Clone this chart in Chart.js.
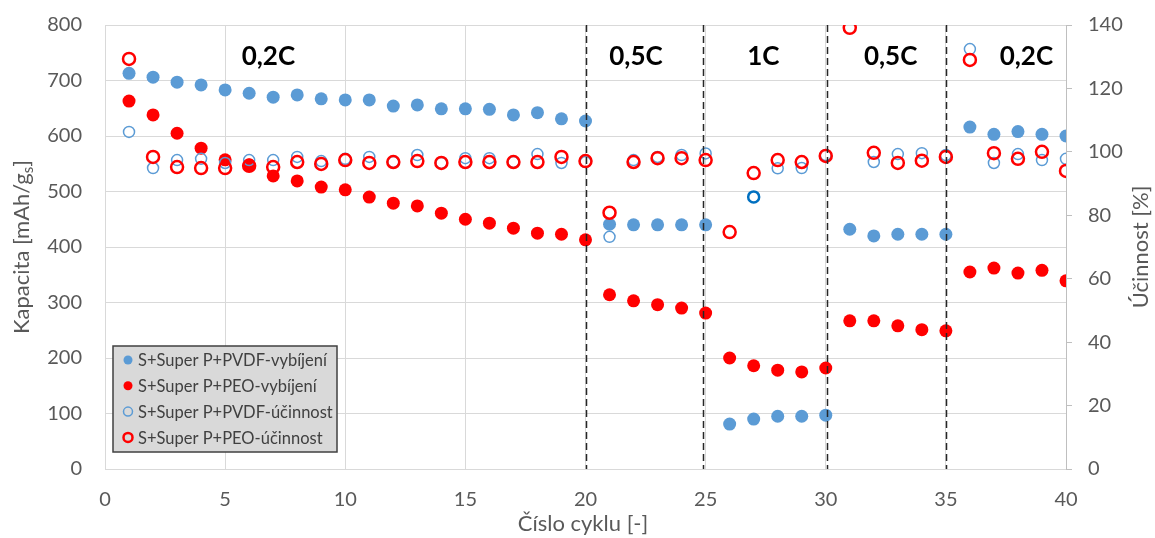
<!DOCTYPE html>
<html>
<head>
<meta charset="utf-8">
<script src="https://cdn.jsdelivr.net/npm/chart.js@4.4.0/dist/chart.umd.min.js"></script>
<style>
  html, body { margin: 0; padding: 0; background: #ffffff; }
  #wrap { width: 1155px; height: 538px; position: relative; }
</style>
</head>
<body>
<div id="wrap"><canvas id="c"></canvas></div>
<script>
// ---- data ----
const cycles = [1,2,3,4,5,6,7,8,9,10,11,12,13,14,15,16,17,18,19,20,21,22,23,24,25,26,27,28,29,30,31,32,33,34,35,36,37,38,39,40];
const pvdfDischarge = [713,706,697,692,683,677,670,674,667,665,665,654,656,649,649,648,638,642,631,627,441,440,440,440,440,81,90,95,95,97,432,420,423,423,423,616,603,608,603,600];
const peoDischarge = [663,638,605,578,557,548,528,519,508,503,490,479,474,461,450,443,434,425,423,413,314,303,296,290,281,200,186,178,175,182,267,267,258,251,249,355,362,353,358,339];
const pvdfEfficiency = [106.3,94.9,97.4,97.8,96.5,97.4,97.4,98.4,97.1,97.8,98.4,96.8,99.0,96.5,98.0,98.0,96.8,99.3,96.5,96.8,73.2,97.4,98.4,99.0,99.5,null,85.8,94.8,94.9,99.0,null,96.8,99.3,99.6,99.0,132.4,96.5,99.3,97.4,97.8];
const peoEfficiency = [129.3,98.4,95.2,94.9,94.9,95.6,95.2,96.8,96.2,97.4,96.5,96.8,97.1,96.5,96.8,96.8,96.8,96.8,98.4,97.1,80.8,96.8,98.0,98.0,97.4,74.7,93.3,97.4,96.8,98.7,139.1,99.7,96.5,97.2,98.4,129.0,99.6,97.8,100.0,94.0];
const seriesLabels = ['S+Super P+PVDF-vybíjení','S+Super P+PEO-vybíjení','S+Super P+PVDF-účinnost','S+Super P+PEO-účinnost'];
const capacityTicks = [0,100,200,300,400,500,600,700,800];
const efficiencyTicks = [0,20,40,60,80,100,120,140];
const cycleTicks = [0,5,10,15,20,25,30,35,40];
const rateLabels = ['0,2C','0,5C','1C','0,5C','0,2C'];
const rateLabelCycle = [6.8,22.1,27.4,32.7,38.35];
const rateBoundaries = [20,24.9,30.05,35];
const axisTitles = { left: 'Kapacita [mAh/g', leftSub: 's', right: 'Účinnost [%]', bottom: 'Číslo cyklu [-]' };

// ---- styling ----
const FONT = 'Lato, "Open Sans", "Liberation Sans", sans-serif';
const GREY = '#595959';
const GRID = '#d9d9d9';
const BLUE = '#5b9bd5';
const RED = '#ff0000';

const toPts = (vals) => cycles.map((c, i) => ({ x: c, y: vals[i] }));

const legendStyles = [
  { fill: BLUE }, { fill: RED }, { stroke: BLUE, w: 1.5 }, { stroke: RED, w: 2.5 }
];

const overlay = {
  id: 'overlay',
  afterDatasetsDraw(chart) {
    const { ctx, chartArea: a, scales } = chart;
    const xs = scales.x;
    ctx.save();
    // dashed rate boundaries
    ctx.strokeStyle = '#262626';
    ctx.lineWidth = 1.5;
    ctx.setLineDash([7, 4]);
    rateBoundaries.forEach(v => {
      const px = Math.round(xs.getPixelForValue(v)) + 0.5;
      ctx.beginPath(); ctx.moveTo(px, a.top); ctx.lineTo(px, a.bottom); ctx.stroke();
    });
    ctx.setLineDash([]);
    // rate labels
    ctx.fillStyle = '#000000';
    ctx.font = 'bold 26px ' + FONT;
    ctx.textAlign = 'center'; ctx.textBaseline = 'middle';
    rateLabels.forEach((t, i) => ctx.fillText(t, xs.getPixelForValue(rateLabelCycle[i]), 57));
    // legend box
    const lx = 113, ly = 346, lw = 224, lh = 106;
    ctx.fillStyle = '#d9d9d9';
    ctx.fillRect(lx, ly, lw, lh);
    ctx.strokeStyle = '#404040'; ctx.lineWidth = 1.5;
    ctx.strokeRect(lx, ly, lw, lh);
    ctx.font = '16.5px ' + FONT;
    ctx.textAlign = 'left'; ctx.textBaseline = 'middle';
    chart.data.datasets.forEach((ds, i) => {
      const y = ly + 14 + i * 25.8;
      const st = legendStyles[i];
      ctx.beginPath();
      ctx.arc(lx + 15, y, 4.5, 0, Math.PI * 2);
      if (st.fill) { ctx.fillStyle = st.fill; ctx.fill(); }
      else { ctx.strokeStyle = st.stroke; ctx.lineWidth = st.w; ctx.stroke(); }
      ctx.fillStyle = '#404040';
      ctx.fillText(ds.label, lx + 25, y + 1);
    });
    // axis titles
    ctx.fillStyle = GREY;
    const TF = 22, SF = 15;
    ctx.font = TF + 'px ' + FONT;
    // left, with subscript
    ctx.save();
    ctx.translate(22, (a.top + a.bottom) / 2);
    ctx.rotate(-Math.PI / 2);
    const mainW = ctx.measureText(axisTitles.left).width;
    ctx.font = SF + 'px ' + FONT;
    const subW = ctx.measureText(axisTitles.leftSub).width;
    ctx.font = TF + 'px ' + FONT;
    const closeW = ctx.measureText(']').width;
    const total = mainW + subW + closeW;
    let sx = -total / 2;
    ctx.textAlign = 'left'; ctx.textBaseline = 'middle';
    ctx.fillText(axisTitles.left, sx, 0); sx += mainW;
    ctx.font = SF + 'px ' + FONT; ctx.fillText(axisTitles.leftSub, sx, 6); sx += subW;
    ctx.font = TF + 'px ' + FONT; ctx.fillText(']', sx, 0);
    ctx.restore();
    // right
    ctx.save();
    ctx.translate(1141, (a.top + a.bottom) / 2);
    ctx.rotate(-Math.PI / 2);
    ctx.textAlign = 'center'; ctx.textBaseline = 'middle';
    ctx.fillText(axisTitles.right, 0, 0);
    ctx.restore();
    // bottom
    ctx.textAlign = 'center'; ctx.textBaseline = 'middle';
    ctx.fillText(axisTitles.bottom, 583, 524);
    ctx.restore();
  }
};

const fitY = (w) => (s) => { s.width = w; s.paddingTop = 0; s.paddingBottom = 0; };

new Chart(document.getElementById('c'), {
  type: 'scatter',
  data: {
    datasets: [
      { label: seriesLabels[0], data: toPts(pvdfDischarge), yAxisID: 'y', order: 3,
        pointRadius: 6.5, pointHoverRadius: 6.5, pointBackgroundColor: BLUE, pointBorderColor: BLUE, pointBorderWidth: 0 },
      { label: seriesLabels[1], data: toPts(peoDischarge), yAxisID: 'y', order: 2,
        pointRadius: 6.5, pointHoverRadius: 6.5, pointBackgroundColor: RED, pointBorderColor: RED, pointBorderWidth: 0 },
      { label: seriesLabels[2], data: toPts(pvdfEfficiency), yAxisID: 'y2', order: 1,
        pointRadius: 5.5, pointHoverRadius: 5.5, pointBackgroundColor: 'rgba(0,0,0,0)',
        pointBorderColor: (c) => c.dataIndex === 26 ? '#0070c0' : BLUE,
        pointBorderWidth: (c) => c.dataIndex === 26 ? 2.5 : 1.5 },
      { label: seriesLabels[3], data: toPts(peoEfficiency), yAxisID: 'y2', order: 0,
        pointRadius: 6, pointHoverRadius: 6, pointBackgroundColor: 'rgba(0,0,0,0)', pointBorderColor: RED, pointBorderWidth: 2.5 }
    ]
  },
  options: {
    responsive: true,
    maintainAspectRatio: false,
    animation: false,
    events: [],
    layout: { padding: { top: 25, left: 0, right: 0, bottom: 0 } },
    plugins: { legend: { display: false }, tooltip: { enabled: false } },
    scales: {
      x: {
        type: 'linear', min: 0, max: 40,
        afterBuildTicks: (s) => { s.ticks = cycleTicks.map(v => ({ value: v })); },
        afterFit: (s) => { s.height = 69; s.paddingLeft = 0; s.paddingRight = 0; },
        ticks: { color: GREY, font: { family: FONT, size: 20 }, padding: 19, maxRotation: 0 },
        grid: { color: GRID, lineWidth: 1, drawTicks: false },
        border: { color: GRID }
      },
      y: {
        position: 'left', min: 0, max: 800,
        afterBuildTicks: (s) => { s.ticks = capacityTicks.map(v => ({ value: v })); },
        afterFit: fitY(105),
        ticks: { color: GREY, font: { family: FONT, size: 20 }, padding: 23 },
        grid: { color: GRID, lineWidth: 1, drawTicks: false },
        border: { color: GRID }
      },
      y2: {
        position: 'right', min: 0, max: 140,
        afterBuildTicks: (s) => { s.ticks = efficiencyTicks.map(v => ({ value: v })); },
        afterFit: fitY(89),
        ticks: { color: GREY, font: { family: FONT, size: 20 }, padding: 16 },
        grid: { drawOnChartArea: false, color: '#bfbfbf', tickLength: 6 },
        border: { color: '#bfbfbf' }
      }
    }
  },
  plugins: [overlay]
});
</script>
</body>
</html>
